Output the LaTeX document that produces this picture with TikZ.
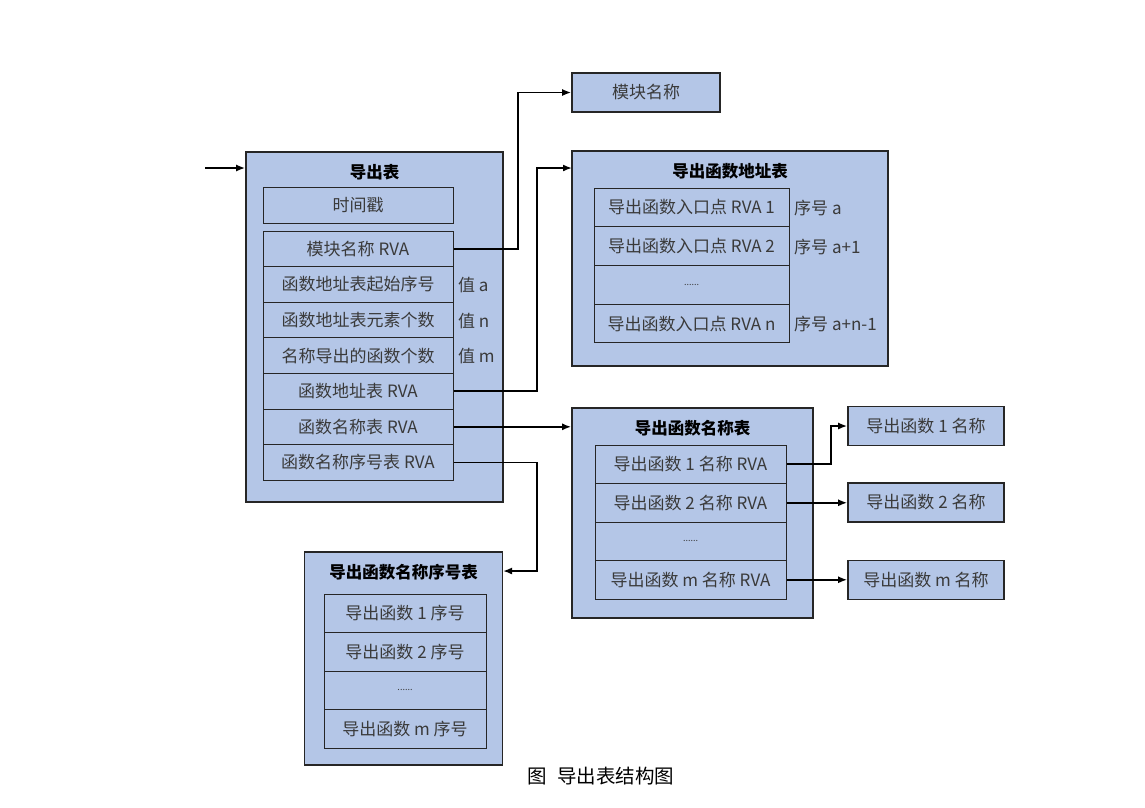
\documentclass[tikz,border=0pt]{standalone}
\usepackage{fontspec}
\setmainfont{Noto Sans CJK SC}
\usetikzlibrary{arrows.meta}
\definecolor{boxfill}{HTML}{B4C6E7}
\definecolor{linec}{HTML}{262626}
\definecolor{textc}{HTML}{3A3A3A}
\begin{document}
\begin{tikzpicture}[x=1pt,y=-1pt,
  outer/.style={draw=linec,line width=1.6pt,fill=boxfill,inner sep=0pt},
  cell/.style={draw=linec,line width=1pt,fill=boxfill,inner sep=0pt,text=textc,font=\fontsize{17}{20}\selectfont},
  ttl/.style={font=\fontsize{16.5}{20}\selectfont\bfseries,text=black,inner sep=0pt},
  lbl/.style={anchor=west,font=\fontsize{17}{20}\selectfont,text=textc,inner sep=0pt},
  arr/.style={-{Latex[length=9pt,width=7pt]},line width=1.7pt,black}]
\useasboundingbox (0,0) rectangle (1145,807);
% export table
\node[outer,minimum width=257pt,minimum height=350pt] (ex) at (374.5,327) {};
\node[ttl] (ext) at (374.5,172) {导出表};
\node[cell,minimum width=190pt,minimum height=36pt] (ts) at (358,205) {时间戳};
\foreach \n/\y/\t in {r1/248.8/模块名称 RVA, r2/284.4/函数地址表起始序号, r3/320/函数地址表元素个数, r4/355.6/名称导出的函数个数, r5/391.2/函数地址表 RVA, r6/426.8/函数名称表 RVA, r7/462.4/函数名称序号表 RVA}
  \node[cell,minimum width=190pt,minimum height=35.6pt] (\n) at (358,\y) {\t};
\node[lbl] (va) at (458,285) {值 a};
\node[lbl] (vn) at (458,321) {值 n};
\node[lbl] (vm) at (458,356) {值 m};
% module name
\node[cell,line width=1.6pt,minimum width=148pt,minimum height=39pt] (mod) at (646,92.5) {模块名称};
% address table
\node[outer,minimum width=316pt,minimum height=215pt] (addr) at (730,258.5) {};
\node[ttl] (addrt) at (730,171) {导出函数地址表};
\foreach \n/\y/\t in {a1/207.4/导出函数入口点 RVA 1, a2/246.1/导出函数入口点 RVA 2, a3/284.9/{\fontsize{9}{10}\selectfont ......}, a4/323.6/导出函数入口点 RVA n}
  \node[cell,minimum width=195pt,minimum height=38.75pt] (\n) at (691.5,\y) {\t};
\node[lbl] (s1) at (794,208) {序号 a};
\node[lbl] (s2) at (794,247) {序号 a+1};
\node[lbl] (s3) at (794,324) {序号 a+n-1};
% name table
\node[outer,minimum width=241pt,minimum height=210pt] (nt) at (692.5,513) {};
\node[ttl] (ntt) at (692.5,428) {导出函数名称表};
\foreach \n/\y/\t in {n1/464.25/导出函数 1 名称 RVA, n2/502.75/导出函数 2 名称 RVA, n3/541.25/{\fontsize{9}{10}\selectfont ......}, n4/579.75/导出函数 m 名称 RVA}
  \node[cell,minimum width=191pt,minimum height=38.5pt] (\n) at (690.5,\y) {\t};
% name boxes
\node[cell,line width=1.6pt,minimum width=156pt,minimum height=39pt] (nb1) at (926,426) {导出函数 1 名称};
\node[cell,line width=1.6pt,minimum width=156pt,minimum height=39pt] (nb2) at (926,502.5) {导出函数 2 名称};
\node[cell,line width=1.6pt,minimum width=156pt,minimum height=39pt] (nb3) at (926,580) {导出函数 m 名称};
% ordinal table
\node[outer,minimum width=198pt,minimum height=213pt] (ord) at (403.5,658.5) {};
\node[ttl] (ordt) at (403.5,572) {导出函数名称序号表};
\foreach \n/\y/\t in {o1/613.25/导出函数 1 序号, o2/651.75/导出函数 2 序号, o3/690.25/{\fontsize{9}{10}\selectfont ......}, o4/728.75/导出函数 m 序号}
  \node[cell,minimum width=162pt,minimum height=38.5pt] (\n) at (405,\y) {\t};
% caption
\node[font=\fontsize{19.5}{22}\selectfont,text=black] (cap) at (601,776) {图\hspace{0.5em}导出表结构图};
% connectors
\coordinate (entry) at (205,168);
\coordinate (addrin) at (572,168);
\coordinate (ordin) at (503,571);
\draw[arr] (entry) -- (entry -| ex.west);
\draw[arr] (r1.east) -| ([xshift=-53pt]mod.west) -- (mod.west);
\draw[arr] (r5.east) -| ([xshift=-35pt]addrin) -- (addrin);
\draw[arr] (r6.east) -- (r6.east -| nt.west);
\draw[arr] (r7.east) -| ([xshift=34pt]ordin) -- (ordin);
\draw[arr] (n1.east) -| ([xshift=-16pt]nb1.west) -- (nb1.west);
\draw[arr] (n2.east) -- (n2.east -| nb2.west);
\draw[arr] (n4.east) -- (n4.east -| nb3.west);
\end{tikzpicture}
\end{document}
